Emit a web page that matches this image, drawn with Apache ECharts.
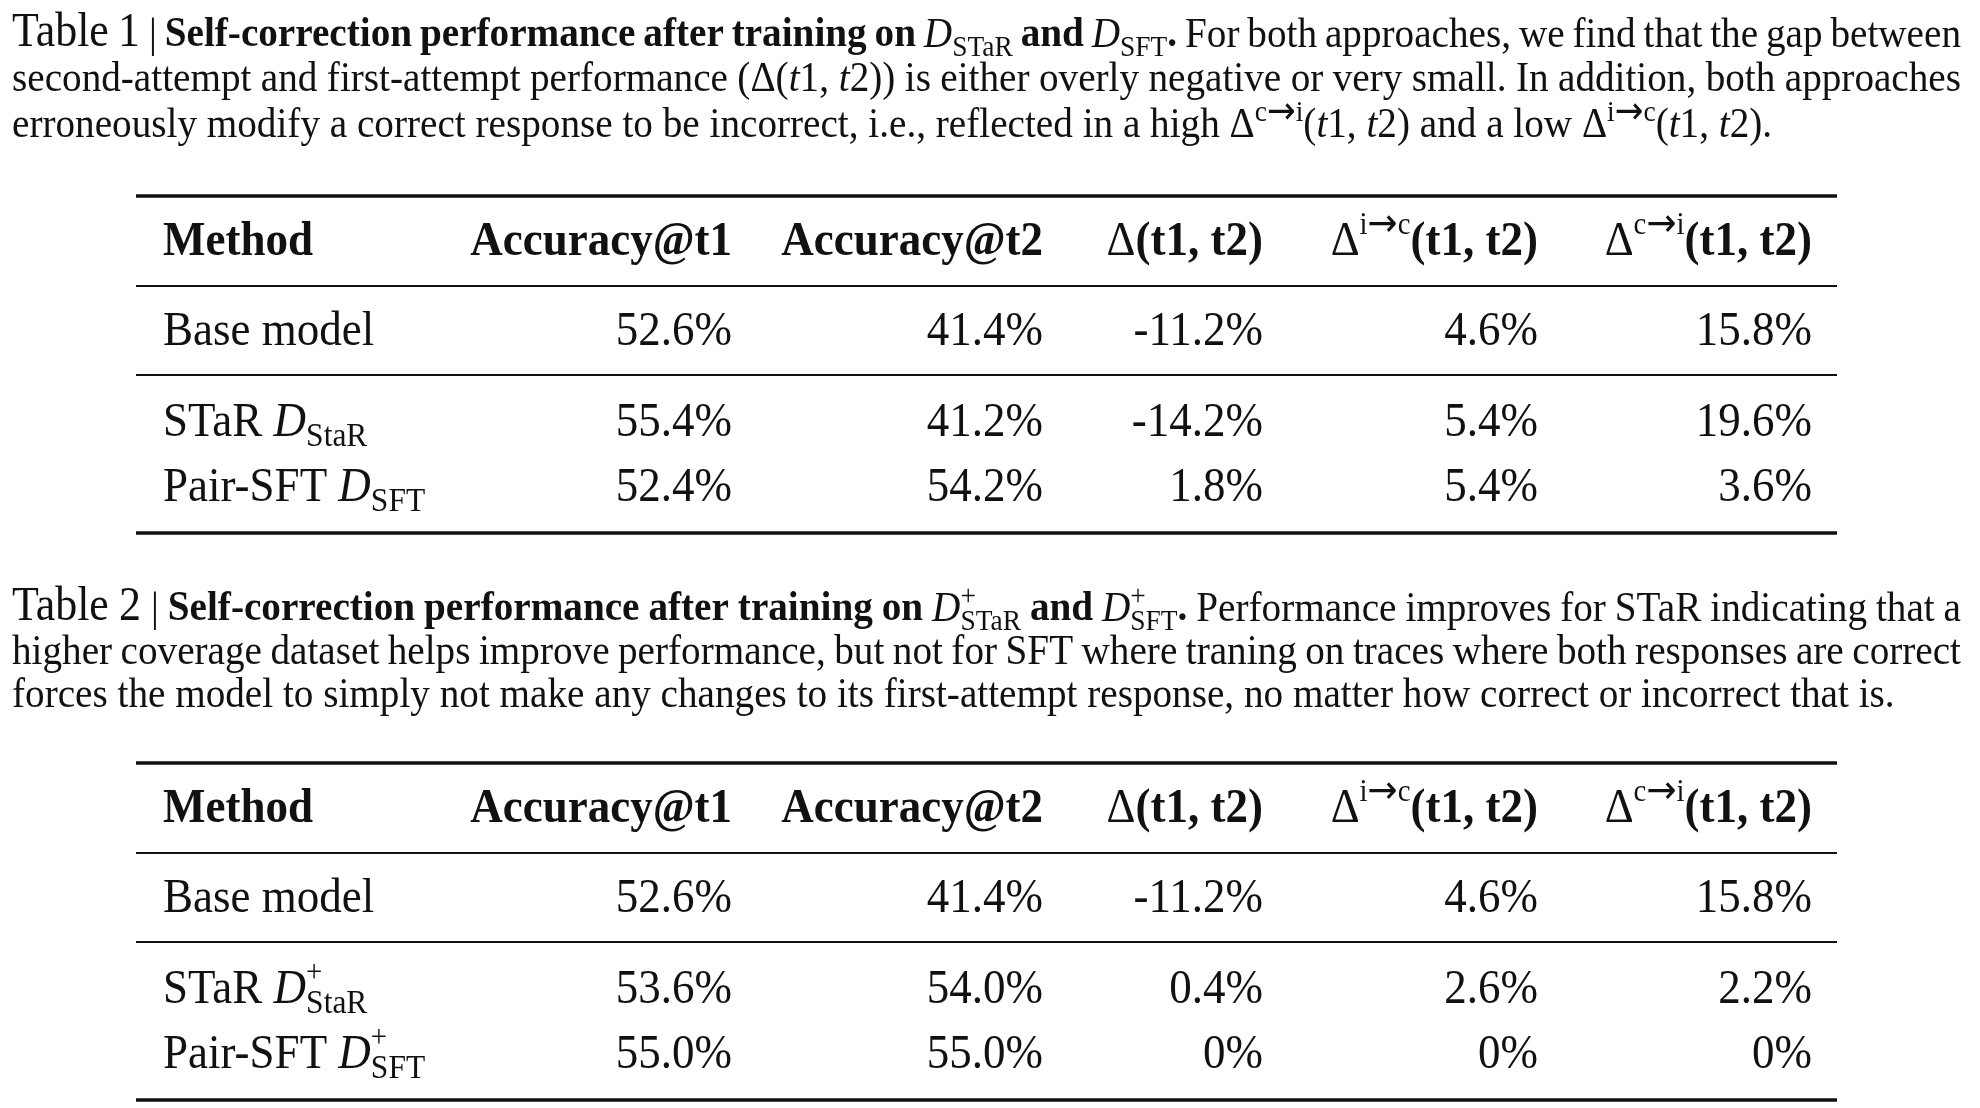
<!DOCTYPE html>
<html><head><meta charset="utf-8">
<script src="https://cdn.jsdelivr.net/npm/echarts@6/dist/echarts.min.js"></script>
<style>html,body{margin:0;padding:0;background:#fff}#chart{width:1980px;height:1108px}</style>
</head><body><div id="chart"></div>
<script>
// ---------------- data ----------------
const columnLabels = ['Method', 'Accuracy@t1', 'Accuracy@t2', 'Δ(t1, t2)', 'Δ^{i→c}(t1, t2)', 'Δ^{c→i}(t1, t2)'];
const methods = ['Base model', 'STaR', 'Pair-SFT'];
const datasetNames = ['', 'StaR', 'SFT'];

const table1Acc1 = [52.6, 55.4, 52.4];
const table1Acc2 = [41.4, 41.2, 54.2];
const table1Delta = [-11.2, -14.2, 1.8];
const table1DeltaIC = [4.6, 5.4, 5.4];
const table1DeltaCI = [15.8, 19.6, 3.6];

const table2Acc1 = [52.6, 53.6, 55.0];
const table2Acc2 = [41.4, 54.0, 55.0];
const table2Delta = [-11.2, 0.4, 0];
const table2DeltaIC = [4.6, 2.6, 0];
const table2DeltaCI = [15.8, 2.2, 0];

const caption1 = [
  [['lab', 'Table 1 '], ['r', '| '], ['b', 'Self-correction performance after training on '], ['D', 'D'], ['sub', 'STaR'], ['b', ' and '], ['D', 'D'], ['sub', 'SFT'], ['b', '.'], ['r', ' For both approaches, we find that the gap between']],
  [['r', 'second-attempt and first-attempt performance (Δ('], ['i', 't'], ['r', '1,\u00a0'], ['i', 't'], ['r', '2)) is either overly negative or very small. In addition, both approaches']],
  [['r', 'erroneously modify a correct response to be incorrect, i.e., reflected in a high Δ'], ['sup', 'c→i'], ['r', '('], ['i', 't'], ['r', '1,\u00a0'], ['i', 't'], ['r', '2) and a low Δ'], ['sup', 'i→c'], ['r', '('], ['i', 't'], ['r', '1,\u00a0'], ['i', 't'], ['r', '2).']]
];
const caption2 = [
  [['lab', 'Table 2 '], ['r', '| '], ['b', 'Self-correction performance after training on '], ['D', 'D'], ['ss', '+', 'STaR'], ['b', ' and '], ['D', 'D'], ['ss', '+', 'SFT'], ['b', '.'], ['r', ' Performance improves for STaR indicating that a']],
  [['r', 'higher coverage dataset helps improve performance, but not for SFT where traning on traces where both responses are correct']],
  [['r', 'forces the model to simply not make any changes to its first-attempt response, no matter how correct or incorrect that is.']]
];

// ---------------- layout ----------------
const FONT = '"Liberation Serif", "Times New Roman", serif';
const ARROW_FONT = '"DejaVu Sans", sans-serif';
const INK = '#111';
const S = 39.2;        // caption font size
const T = 45;          // table font size
const SCALE_Y = 1.1;
const MID = 0.34;
const capLeft = 12, capRight = 1961;
const cap1Base = [50, 94, 140], cap2Base = [624, 667, 710];
const tableTop = [196, 763];
const rowOff = { header: 63, rule1: 90, rows: [153, 244, 309], rule2: 179, bottom: 337 };
const colRight = [0, 732, 1043, 1263, 1538, 1812];
const methodLeft = 163, ruleL = 136, ruleR = 1837;

const mctx = document.createElement('canvas').getContext('2d');
function fontOf(st) { return (st.italic ? 'italic ' : '') + (st.bold ? 'bold ' : '') + st.size.toFixed(2) + 'px ' + (st.family || FONT); }
function tw(text, st) { mctx.font = fontOf(st); return mctx.measureText(text).width; }
function makeStyles(B, o) {
  return {
    r: { size: B }, b: { size: B, bold: true }, i: { size: B, italic: true }, D: { size: B, italic: true },
    lab: { size: B * 1.12 }, dl: { size: B * o.dl },
    sub: { size: B * o.subSize, dy: B * o.subDy },
    sup: { size: B * o.supSize, dy: -B * o.supDy }
  };
}
const capSizes = { dl: 1, subSize: 0.7, subDy: 0.22, supSize: 0.7, supDy: 0.42 };
const tabSizes = { dl: 1.0, subSize: 0.7, subDy: 0.2, supSize: 0.64, supDy: 0.5 };

function textEl(text, x, baseline, st) {
  const off = MID * st.size;
  return {
    type: 'text', x: x, y: baseline + (st.dy || 0) - off, silent: true,
    scaleY: SCALE_Y, originX: 0, originY: off,
    style: { text: text, font: fontOf(st), fill: INK, align: 'left', verticalAlign: 'middle', textAlign: 'left', textVerticalAlign: 'middle' }
  };
}
function layout(segs, B, sizes, opt) {
  const sty = makeStyles(B, sizes);
  const pieces = [];
  const pushText = (txt, st) => {
    txt.split(/(→)/).forEach(t => {
      if (!t) return;
      if (t === '→') {
        const ast = Object.assign({}, st, { family: ARROW_FONT, size: st.size * 1.25, dy: (st.dy || 0) + st.size * 0.08 });
        pieces.push({ kind: 't', text: t, st: ast, w: tw(t, ast) });
      } else pieces.push({ kind: 't', text: t, st: st, w: tw(t, st) });
    });
  };
  segs.forEach(seg => {
    if (seg[0] === 'ss') {
      pieces.push({ kind: 'ss', sup: seg[1], sub: seg[2], w: Math.max(tw(seg[1], sty.sup), tw(seg[2], sty.sub)) });
      return;
    }
    const st = sty[seg[0]];
    seg[1].split(/( )/).forEach(part => {
      if (!part) return;
      if (part === ' ') pieces.push({ kind: 'sp', w: tw(' ', st) });
      else pushText(part, st);
    });
  });
  const natural = pieces.reduce((a, p) => a + p.w, 0);
  const nsp = pieces.filter(p => p.kind === 'sp').length;
  let extra = 0, x = opt.x;
  if (opt.justifyTo != null && nsp) extra = (opt.justifyTo - opt.x - natural) / nsp;
  if (opt.alignRight != null) x = opt.alignRight - natural;
  const els = [];
  pieces.forEach(p => {
    if (p.kind === 'sp') { x += p.w + extra; return; }
    if (p.kind === 'ss') {
      els.push(textEl(p.sup, x, opt.baseline, sty.sup));
      els.push(textEl(p.sub, x, opt.baseline, sty.sub));
    } else els.push(textEl(p.text, x, opt.baseline, p.st));
    x += p.w;
  });
  return els;
}

function headerSegs(label) {
  if (label.charAt(0) !== 'Δ') return [['b', label]];
  const segs = [['dl', 'Δ']];
  let rest = label.slice(1);
  const m = rest.match(/^\^\{(.+?)\}(.*)$/);
  if (m) { segs.push(['sup', m[1]]); rest = m[2]; }
  segs.push(['b', rest.replace(/ /g, '\u00a0')]);
  return segs;
}
function labelSegs(i, plus) {
  if (!datasetNames[i]) return [['r', methods[i]]];
  return [['r', methods[i] + ' '], ['D', 'D'], plus ? ['ss', '+', datasetNames[i]] : ['sub', datasetNames[i]]];
}
const fmtAcc = v => v.toFixed(1) + '%';
const fmtDelta = v => (v === 0 ? '0%' : v.toFixed(1) + '%');

function captionEls(lines, bases) {
  let els = [];
  lines.forEach((segs, k) => {
    els = els.concat(layout(segs, S, capSizes, { x: capLeft, baseline: bases[k], justifyTo: k < lines.length - 1 ? capRight : null }));
  });
  return els;
}

function headerSeries(t) {
  return {
    type: 'custom', coordinateSystem: 'cartesian2d', silent: true,
    data: columnLabels.map((_, c) => [c, tableTop[t]]),
    renderItem: function (params, api) {
      const c = params.dataIndex;
      const top = api.value(1);
      const yb = api.coord([0, top + rowOff.header])[1];
      const children = c === 0
        ? layout(headerSegs(columnLabels[0]), T, tabSizes, { x: api.coord([methodLeft, 0])[0], baseline: yb })
        : layout(headerSegs(columnLabels[c]), T, tabSizes, { x: 0, alignRight: api.coord([colRight[c], 0])[0], baseline: yb });
      if (c === 0) {
        const xl = api.coord([ruleL, 0])[0], xr = api.coord([ruleR, 0])[0];
        [[0, 3.5], [rowOff.rule1, 2], [rowOff.rule2, 2], [rowOff.bottom, 3.5]].forEach(r => {
          const y = api.coord([0, top + r[0]])[1];
          children.push({ type: 'line', silent: true, shape: { x1: xl, y1: y, x2: xr, y2: y }, style: { stroke: INK, lineWidth: r[1] } });
        });
      }
      return { type: 'group', children: children };
    }
  };
}
function bodySeries(t, acc1, acc2, delta, ic, ci, plus) {
  return {
    type: 'custom', coordinateSystem: 'cartesian2d', silent: true,
    data: methods.map((m, i) => [i, tableTop[t], acc1[i], acc2[i], delta[i], ic[i], ci[i]]),
    renderItem: function (params, api) {
      const i = params.dataIndex;
      const yb = api.coord([0, api.value(1) + rowOff.rows[i]])[1];
      let children = layout(labelSegs(i, plus), T, tabSizes, { x: api.coord([methodLeft, 0])[0], baseline: yb });
      for (let c = 1; c <= 5; c++) {
        const v = api.value(c + 1);
        const txt = c <= 2 ? fmtAcc(v) : fmtDelta(v);
        children = children.concat(layout([['r', txt]], T, tabSizes, { x: 0, alignRight: api.coord([colRight[c], 0])[0], baseline: yb }));
      }
      return { type: 'group', children: children };
    }
  };
}

const chart = echarts.init(document.getElementById('chart'), null, { renderer: 'canvas' });
chart.setOption({
  animation: false,
  backgroundColor: '#ffffff',
  grid: { left: 0, right: 0, top: 0, bottom: 0 },
  xAxis: { type: 'value', min: 0, max: 1980, show: false },
  yAxis: { type: 'value', min: 0, max: 1108, inverse: true, show: false },
  graphic: { elements: [{ type: 'group', silent: true, children: captionEls(caption1, cap1Base).concat(captionEls(caption2, cap2Base)) }] },
  series: [
    headerSeries(0),
    bodySeries(0, table1Acc1, table1Acc2, table1Delta, table1DeltaIC, table1DeltaCI, false),
    headerSeries(1),
    bodySeries(1, table2Acc1, table2Acc2, table2Delta, table2DeltaIC, table2DeltaCI, true)
  ]
});
</script></body></html>
